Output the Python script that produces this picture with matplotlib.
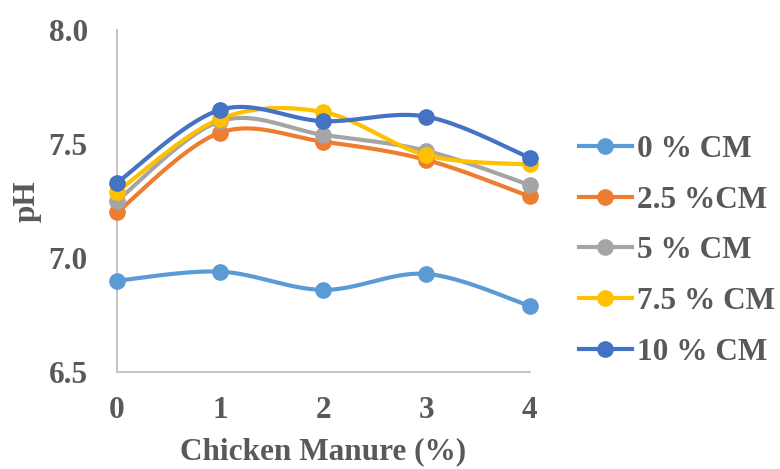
import numpy as np
import matplotlib
matplotlib.use("Agg")
import matplotlib.pyplot as plt
from matplotlib.lines import Line2D

# Chicken manure dose on the x axis, pH for each CM treatment
manure = [0, 1, 2, 3, 4]
ph_0 = [6.90, 6.94, 6.86, 6.93, 6.79]
ph_2_5 = [7.20, 7.55, 7.51, 7.43, 7.27]
ph_5 = [7.25, 7.60, 7.54, 7.47, 7.32]
ph_7_5 = [7.29, 7.61, 7.64, 7.45, 7.41]
ph_10 = [7.33, 7.65, 7.60, 7.62, 7.44]

labels = ["0 % CM", "2.5 %CM", "5 % CM", "7.5 % CM", "10 % CM"]
colors = ["#5B9BD5", "#ED7D31", "#A5A5A5", "#FFC000", "#4472C4"]
TEXT = "#595959"
FS = 22.5


def smooth(x, y, n=40):
    # office-style smoothed line: cubic Bezier segments with 1/6 tangents
    x = np.asarray(x, float)
    y = np.asarray(y, float)
    px = np.concatenate([[x[0]], x, [x[-1]]])
    py = np.concatenate([[y[0]], y, [y[-1]]])
    t = np.linspace(0, 1, n)[:, None]
    xs, ys = [], []
    for i in range(len(x) - 1):
        p0 = np.array([px[i + 1], py[i + 1]])
        p3 = np.array([px[i + 2], py[i + 2]])
        p1 = p0 + (p3 - np.array([px[i], py[i]])) / 6
        p2 = p3 - (np.array([px[i + 3], py[i + 3]]) - p0) / 6
        b = ((1 - t) ** 3) * p0 + 3 * ((1 - t) ** 2) * t * p1 + 3 * (1 - t) * t ** 2 * p2 + t ** 3 * p3
        xs.append(b[:, 0])
        ys.append(b[:, 1])
    return np.concatenate(xs), np.concatenate(ys)


plt.rcParams["font.family"] = ["Liberation Serif", "DejaVu Serif"]
plt.rcParams["font.weight"] = "bold"

fig = plt.figure(figsize=(7.8, 4.69), dpi=100)
ax = fig.add_axes([0.15, 0.207, 0.529, 0.729])

series = [ph_0, ph_2_5, ph_5, ph_7_5, ph_10]
for vals, c in zip(series, colors):
    sx, sy = smooth(manure, vals)
    ax.plot(sx, sy, color=c, lw=3, solid_capstyle="round", zorder=2)
    ax.plot(manure, vals, "o", color=c, ms=11, zorder=3, clip_on=False)

ax.set_xlim(0, 4)
ax.set_ylim(6.5, 8.0)
ax.set_xticks(manure)
ax.set_yticks([6.5, 7.0, 7.5, 8.0])
ax.set_yticklabels(["6.5", "7.0", "7.5", "8.0"])
ax.tick_params(length=0, labelsize=FS, colors=TEXT)
ax.tick_params(axis="y", pad=21)
ax.tick_params(axis="x", pad=17)
for s in ["top", "right"]:
    ax.spines[s].set_visible(False)
for s in ["left", "bottom"]:
    ax.spines[s].set_color("#BFBFBF")
    ax.spines[s].set_linewidth(1.3)

ax.set_xlabel("Chicken Manure (%)", fontsize=FS, color=TEXT, fontweight="bold", labelpad=9)
ax.set_ylabel("pH", fontsize=FS, color=TEXT, fontweight="bold", labelpad=5)

handles = [Line2D([0], [0], color=c, lw=3, marker="o", ms=11) for c in colors]
fig.legend(handles, labels, loc="center left", bbox_to_anchor=(0.742, 0.465),
           frameon=False, fontsize=FS, labelcolor=TEXT, handlelength=1.7,
           handletextpad=0.15, labelspacing=0.7, borderpad=0, borderaxespad=0)

fig.savefig("out.png", dpi=100)
